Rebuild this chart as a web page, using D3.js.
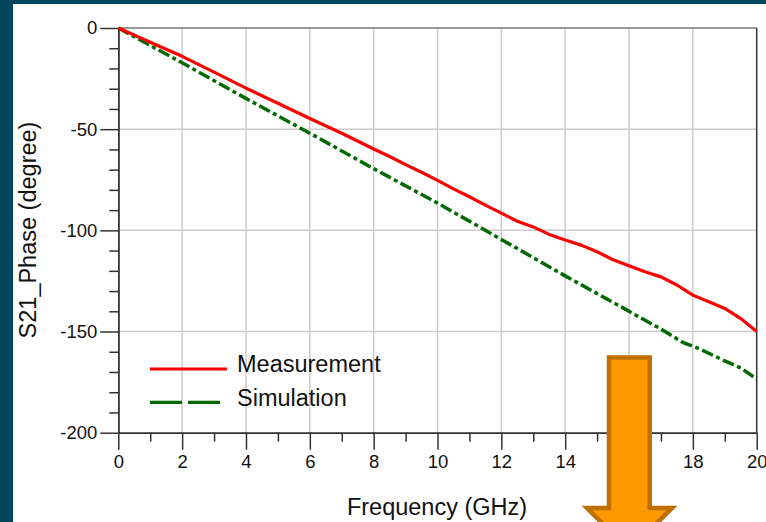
<!DOCTYPE html>
<html>
<head>
<meta charset="utf-8">
<script src="https://cdn.jsdelivr.net/npm/d3@7"></script>
<style>
  body { margin: 0; background: #fff; }
  svg { display: block; font-family: "Liberation Sans", Arial, sans-serif; }
</style>
</head>
<body>
<svg id="chart" width="766" height="522"></svg>
<script>
// data
const measFreq = [0, 1, 2, 3, 4, 5, 6, 7, 8, 8.5, 9, 9.5, 10, 10.5, 11, 11.5, 12, 12.5, 13, 13.5, 14, 14.5, 15, 15.5, 16, 16.5, 17, 17.5, 18, 18.5, 19, 19.5, 20]
const measPhase = [0, -7, -14, -21.8, -29.7, -37.2, -44.7, -52, -59.8, -63.5, -67.5, -71.3, -75.3, -79.5, -83.4, -87.5, -91.5, -95.5, -98.3, -102, -104.8, -107.3, -110.6, -114.5, -117.5, -120.5, -123, -127, -132, -135.3, -138.6, -143.6, -150]
const simFreq = [0, 2, 4, 6, 8, 10, 12, 14, 16, 17, 17.7, 18.2, 19, 19.5, 20]
const simPhase = [0, -17.2, -34.8, -52, -69.5, -86.5, -104.5, -122.5, -140, -148.8, -155.5, -158.5, -164.5, -168, -173.5]
const xTicks = [0, 2, 4, 6, 8, 10, 12, 14, 16, 18, 20]
const xMinor = [1, 3, 5, 7, 9, 11, 13, 15, 17, 19]
const yTicks = [0, -50, -100, -150, -200]
const yMinor = [-10, -20, -30, -40, -60, -70, -80, -90, -110, -120, -130, -140, -160, -170, -180, -190]
const seriesNames = ['Measurement', 'Simulation']

const svg = d3.select('#chart')
const plotLeft = 118.3, plotRight = 756.7, plotTop = 28, plotBottom = 432.7

// фон и рамка слайда
svg.append('rect').attr('x', 0).attr('y', 0).attr('width', 766).attr('height', 4).attr('fill', '#03465e')
svg.append('rect').attr('x', 0).attr('y', 0).attr('width', 13).attr('height', 522).attr('fill', '#03465e')

let x = d3.scaleLinear().domain([0, 20]).range([plotLeft, plotRight])
let y = d3.scaleLinear().domain([-200, 0]).range([plotBottom, plotTop])

svg.append('defs').append('clipPath').attr('id', 'plotClip')
  .append('rect').attr('x', plotLeft).attr('y', plotTop - 2)
  .attr('width', plotRight - plotLeft + 2).attr('height', plotBottom - plotTop + 4)

// сетка
svg.append('g').selectAll('line').data(xTicks.slice(1, -1)).enter().append('line')
  .attr('x1', d => x(d)).attr('x2', d => x(d)).attr('y1', plotTop).attr('y2', plotBottom)
  .attr('stroke', '#cccccc').attr('stroke-width', 1.5)
svg.append('g').selectAll('line').data(yTicks.slice(1, -1)).enter().append('line')
  .attr('x1', plotLeft).attr('x2', plotRight).attr('y1', d => y(d)).attr('y2', d => y(d))
  .attr('stroke', '#cccccc').attr('stroke-width', 1.5)

// рамка
svg.append('line').attr('x1', plotLeft).attr('x2', plotRight).attr('y1', plotTop).attr('y2', plotTop)
  .attr('stroke', '#777').attr('stroke-width', 1.5)
svg.append('line').attr('x1', plotRight).attr('x2', plotRight).attr('y1', plotTop).attr('y2', plotBottom)
  .attr('stroke', '#333').attr('stroke-width', 1.5)

// оси
function styleAxis (g) {
  g.select('.domain').attr('stroke', '#333').attr('stroke-width', 1.5)
  g.selectAll('.tick line').attr('stroke', '#333').attr('stroke-width', 1.5)
  g.selectAll('.tick text').attr('fill', '#111').style('font-size', '18.5px')
}

svg.append('g').attr('transform', 'translate(0,' + plotBottom + ')')
  .call(d3.axisBottom(x).tickValues(xMinor).tickSize(9).tickSizeOuter(0).tickFormat(''))
  .call(styleAxis)
svg.append('g').attr('transform', 'translate(0,' + plotBottom + ')')
  .call(d3.axisBottom(x).tickValues(xTicks).tickSize(17).tickSizeOuter(0).tickPadding(5).tickFormat(d => String(d)))
  .call(styleAxis)
  .call(g => g.selectAll('.tick text').attr('dy', '0.72em'))

svg.append('g').attr('transform', 'translate(' + plotLeft + ',0)')
  .call(d3.axisLeft(y).tickValues(yMinor).tickSize(9).tickSizeOuter(0).tickFormat(''))
  .call(styleAxis)
svg.append('g').attr('transform', 'translate(' + plotLeft + ',0)')
  .call(d3.axisLeft(y).tickValues(yTicks).tickSize(18).tickSizeOuter(0).tickPadding(3).tickFormat(d => String(d)))
  .call(styleAxis)

// линии
let line = d3.line().x(d => x(d[0])).y(d => y(d[1]))
let plot = svg.append('g').attr('clip-path', 'url(#plotClip)')

plot.append('path')
  .datum(simFreq.map((f, i) => [f, simPhase[i]]))
  .attr('d', line)
  .attr('fill', 'none').attr('stroke', '#006a00').attr('stroke-width', 3.5)
  .attr('stroke-dasharray', '12,3.5,4,3.5')

plot.append('path')
  .datum(measFreq.map((f, i) => [f, measPhase[i]]))
  .attr('d', line)
  .attr('fill', 'none').attr('stroke', '#ff0000').attr('stroke-width', 3.2)
  .attr('stroke-linejoin', 'round')

// легенда
let legend = svg.append('g')
legend.append('line').attr('x1', 150).attr('x2', 227).attr('y1', 369).attr('y2', 369)
  .attr('stroke', '#ff0000').attr('stroke-width', 3.2)
legend.append('line').attr('x1', 150).attr('x2', 221).attr('y1', 402.3).attr('y2', 402.3)
  .attr('stroke', '#006a00').attr('stroke-width', 3.2).attr('stroke-dasharray', '32,6')
legend.selectAll('text').data(seriesNames).enter().append('text')
  .attr('x', 237).attr('y', (d, i) => i === 0 ? 372.3 : 405.7)
  .attr('fill', '#111').style('font-size', '23.5px')
  .text(d => d)

// подписи осей
svg.append('text')
  .attr('transform', 'translate(36,230) rotate(-90)')
  .attr('text-anchor', 'middle').attr('fill', '#111').style('font-size', '23.5px')
  .text('S21_Phase (degree)')
svg.append('text')
  .attr('x', 437).attr('y', 515)
  .attr('text-anchor', 'middle').attr('fill', '#111').style('font-size', '23.5px')
  .text('Frequency (GHz)')

// стрелка
svg.append('path')
  .attr('d', 'M609,357.5 L649.7,357.5 L649.7,508 L672,508 L629.4,550.6 L587,508 L609,508 Z')
  .attr('fill', '#ff9900').attr('stroke', '#c07000').attr('stroke-width', 4.5)
  .attr('stroke-linejoin', 'miter')
</script>
</body>
</html>
